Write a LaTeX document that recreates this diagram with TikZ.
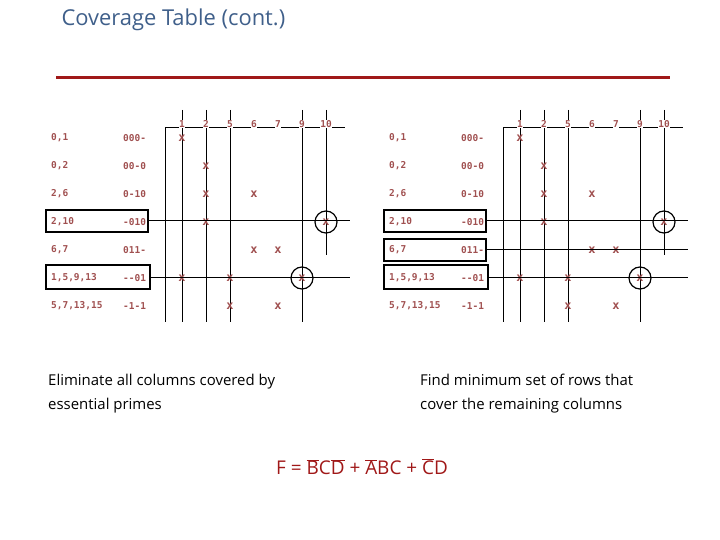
\documentclass[tikz,border=0pt]{standalone}
\usepackage{fontspec}
\setmainfont{Open Sans}
\newfontfamily\tabfont{DejaVu Sans Mono}
\newcommand\ovl[1]{$\overline{\mbox{#1}}$}
\begin{document}
\begin{tikzpicture}[x=1bp,y=-1bp,
  tt/.style={font=\tabfont\bfseries\fontsize{9.5}{10}\selectfont,text=brn,anchor=west,inner sep=0},
  cl/.style={font=\tabfont\bfseries\fontsize{9.5}{10}\selectfont,text=brn,inner sep=0},
  xm/.style={font=\tabfont\bfseries\fontsize{12}{12}\selectfont,text=brn,inner sep=0},
  ln/.style={black,line width=1bp},
  ring/.style={circle,draw=black,line width=1.2bp,minimum size=22bp,inner sep=0},
  bx/.style={draw=black,line width=1.2bp}]
\definecolor{brn}{HTML}{A05050}
\definecolor{ttl}{HTML}{3F5F8A}
\definecolor{rl}{HTML}{A01818}
\useasboundingbox (0,0) rectangle (720,540);
\node[anchor=west,text=ttl,font=\fontsize{22}{26}\selectfont] (title) at (58,20) {Coverage Table (cont.)};
\coordinate (r1) at (56,78); \coordinate (r2) at (670,78);
\draw[rl,line width=3bp] (r1) -- (r2);
\foreach \o/\s in {0/L,338/R}{
  \coordinate (tl\s) at (165+\o,128); \coordinate (tr\s) at (345+\o,128);
  \coordinate (bl\s) at (165+\o,322);
  \draw[ln] (tl\s) -- (tr\s); \draw[ln] (tl\s) -- (bl\s);
  \foreach \c/\x in {1/182,2/206,5/230,9/302}{
    \coordinate (ct\s\c) at (\x+\o,110); \coordinate (cb\s\c) at (\x+\o,322);
    \draw[ln] (ct\s\c) -- (cb\s\c);}
  \coordinate (ct\s10) at (326+\o,110); \coordinate (cb\s10) at (326+\o,255);
  \draw[ln] (ct\s10) -- (cb\s10);
  \foreach \c/\x in {1/182,2/206,5/230,6/254,7/278,9/302,10/326}
    \node[cl,fill=white,inner sep=0.3bp] (h\s\c) at (\x+\o,124) {\c};
  \foreach \i/\a/\b/\y in {1/{0,1}/000-/138,2/{0,2}/00-0/166,3/{2,6}/0-10/194,4/{2,10}/-010/222,5/{6,7}/011-/250,6/{1,5,9,13}/--01/278,7/{5,7,13,15}/-1-1/306}{
    \node[tt] (a\s\i) at (51+\o,\y) {\a};
    \node[tt] (b\s\i) at (123+\o,\y) {\b};}
  \foreach \x/\y in {182/138,206/166,206/194,254/194,206/222,326/222,254/250,278/250,182/278,230/278,302/278,230/306,278/306}
    \node[xm] at (\x+\o,\y) {x};
  \node[ring] (c1\s) at (326+\o,222) {};
  \node[ring] (c2\s) at (302+\o,278) {};
  \node[bx,minimum width=102bp,minimum height=22bp] (k1\s) at (97+\o,221) {};
  \node[bx,minimum width=104bp,minimum height=24bp] (k2\s) at (98+\o,277) {};
  \coordinate (e1\s) at (350+\o,221); \coordinate (e2\s) at (350+\o,277);
  \draw[ln] (k1\s.east) -- (e1\s);
  \draw[ln] (k2\s.east) -- (e2\s);
}
\node[bx,minimum width=102bp,minimum height=22bp] (k3R) at (435,250) {};
\coordinate (e3R) at (688,250);
\draw[ln] (k3R.east) -- (e3R);
\node[anchor=north west,align=left,font=\fontsize{15}{24}\selectfont,inner sep=0] (t1) at (48,374) {Eliminate all columns covered by\\essential primes};
\node[anchor=north west,align=left,font=\fontsize{15}{24}\selectfont,inner sep=0] (t2) at (420,374) {Find minimum set of rows that\\cover the remaining columns};
\node[text=rl,font=\fontsize{19}{22}\selectfont] (f) at (362,467) {F = \ovl{B}C\ovl{D} + \ovl{A}BC + \ovl{C}D};
\end{tikzpicture}
\end{document}
